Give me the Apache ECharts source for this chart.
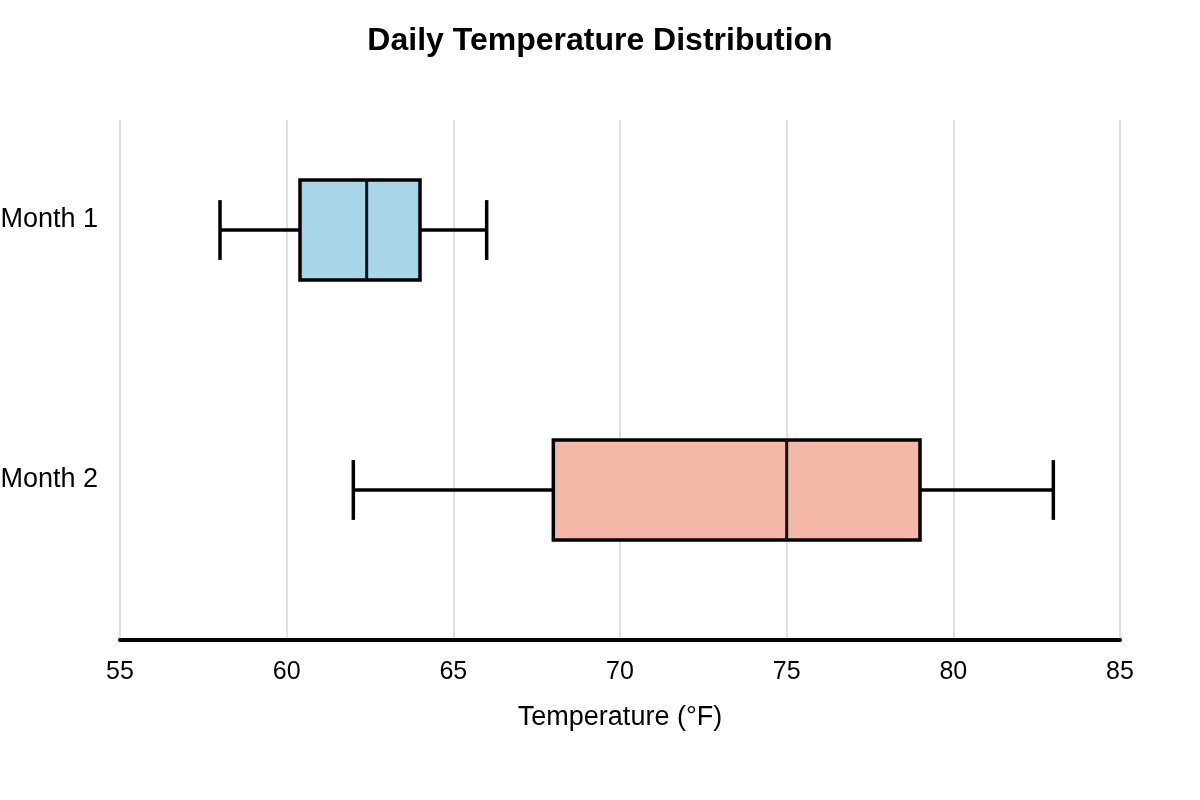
<!DOCTYPE html>
<html>
<head>
<meta charset="utf-8">
<script src="https://cdn.jsdelivr.net/npm/echarts@6/dist/echarts.min.js"></script>
<style>
  html, body { margin: 0; padding: 0; background: #fff; }
  #myechart { width: 1200px; height: 800px; }
</style>
</head>
<body>
<div id="myechart"></div>
<script>
// data
var categories = ['Month 1', 'Month 2'];
var lows = [58, 62];
var q1s = [60.4, 68];
var medians = [62.4, 75];
var q3s = [64, 79];
var highs = [66, 83];
var fills = ['#a8d5e8', '#f4b8a8'];
var xTicks = { min: 55, max: 85, interval: 5 };

var FONT = 'Liberation Sans, Arial, sans-serif';

var boxData = categories.map(function (c, i) {
  return [i, lows[i], q1s[i], medians[i], q3s[i], highs[i]];
});

function renderBox(params, api) {
  var i = api.value(0);
  var band = api.size([0, 1])[1];
  var boxH = band * 0.385;
  var capH = band * 0.23;
  var pLow = api.coord([api.value(1), i]);
  var pQ1 = api.coord([api.value(2), i]);
  var pMed = api.coord([api.value(3), i]);
  var pQ3 = api.coord([api.value(4), i]);
  var pHigh = api.coord([api.value(5), i]);
  var y = pMed[1];
  var line = { stroke: '#000', lineWidth: 3.5 };
  return {
    type: 'group',
    children: [
      { type: 'line', shape: { x1: pLow[0], y1: y, x2: pQ1[0], y2: y }, style: line },
      { type: 'line', shape: { x1: pQ3[0], y1: y, x2: pHigh[0], y2: y }, style: line },
      { type: 'line', shape: { x1: pLow[0], y1: y - capH / 2, x2: pLow[0], y2: y + capH / 2 }, style: line },
      { type: 'line', shape: { x1: pHigh[0], y1: y - capH / 2, x2: pHigh[0], y2: y + capH / 2 }, style: line },
      {
        type: 'rect',
        shape: { x: pQ1[0], y: y - boxH / 2, width: pQ3[0] - pQ1[0], height: boxH },
        style: { fill: fills[i], stroke: '#000', lineWidth: 3.5 }
      },
      { type: 'line', shape: { x1: pMed[0], y1: y - boxH / 2, x2: pMed[0], y2: y + boxH / 2 }, style: { stroke: '#111', lineWidth: 3 } }
    ]
  };
}

var myechart = echarts.init(document.getElementById('myechart'));

var option = {
  backgroundColor: '#fff',
  animation: false,
  title: {
    text: 'Daily Temperature Distribution',
    left: 'center',
    top: 20,
    textStyle: { fontFamily: FONT, fontSize: 32, fontWeight: 'bold', color: '#000' }
  },
  grid: [
    // axis / gridline frame
    { left: 120, width: 1000, top: 120, height: 520, outerBoundsMode: 'none' },
    // plotting frame for the boxes
    { left: 120, width: 1000, top: 100, height: 520, outerBoundsMode: 'none' }
  ],
  xAxis: [
    {
      gridIndex: 0,
      type: 'value',
      min: xTicks.min,
      max: xTicks.max,
      interval: xTicks.interval,
      name: 'Temperature (°F)',
      nameLocation: 'middle',
      nameGap: 64,
      nameTextStyle: { fontFamily: FONT, fontSize: 27, color: '#000' },
      axisLine: { show: true, lineStyle: { color: '#000', width: 4 } },
      axisTick: { show: false },
      axisLabel: { fontFamily: FONT, fontSize: 25, color: '#000', margin: 20 },
      splitLine: { show: true, lineStyle: { color: '#e0e0e0', width: 2 } }
    },
    {
      gridIndex: 1,
      type: 'value',
      min: xTicks.min,
      max: xTicks.max,
      show: false
    }
  ],
  yAxis: [
    {
      gridIndex: 0,
      type: 'value',
      show: false
    },
    {
      gridIndex: 1,
      type: 'category',
      data: categories,
      inverse: true,
      axisLine: { show: false },
      axisTick: { show: false },
      splitLine: { show: false },
      axisLabel: {
        fontFamily: FONT,
        fontSize: 27,
        color: '#000',
        margin: 22,
        verticalAlign: 'bottom',
        lineHeight: 21
      }
    }
  ],
  series: [
    {
      type: 'custom',
      xAxisIndex: 1,
      yAxisIndex: 1,
      renderItem: renderBox,
      encode: { x: [1, 2, 3, 4, 5], y: 0 },
      data: boxData
    }
  ]
};

myechart.setOption(option);
</script>
</body>
</html>
